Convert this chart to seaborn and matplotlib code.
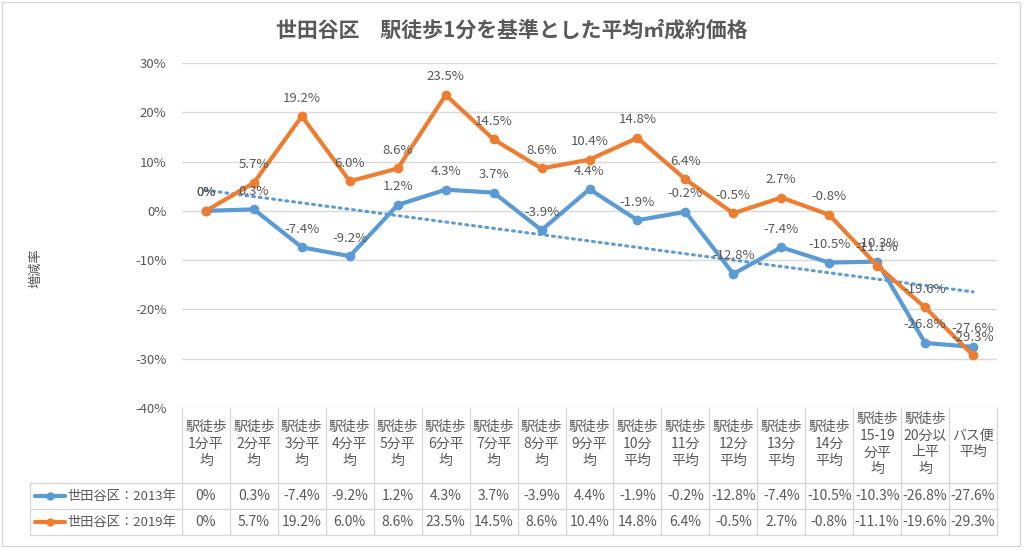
import numpy as np
import pandas as pd
import matplotlib
matplotlib.use("Agg")
import matplotlib.pyplot as plt
import matplotlib.transforms as mtransforms
from matplotlib.patches import Rectangle
from matplotlib.lines import Line2D
import seaborn as sns

# ---------------- data ----------------
categories = [
    "駅徒歩\n1分平\n均", "駅徒歩\n2分平\n均", "駅徒歩\n3分平\n均", "駅徒歩\n4分平\n均",
    "駅徒歩\n5分平\n均", "駅徒歩\n6分平\n均", "駅徒歩\n7分平\n均", "駅徒歩\n8分平\n均",
    "駅徒歩\n9分平\n均", "駅徒歩\n10分\n平均", "駅徒歩\n11分\n平均", "駅徒歩\n12分\n平均",
    "駅徒歩\n13分\n平均", "駅徒歩\n14分\n平均", "駅徒歩\n15-19\n分平\n均",
    "駅徒歩\n20分以\n上平\n均", "バス便\n平均",
]
series_names = ["世田谷区：2013年", "世田谷区：2019年"]
values_2013 = [0, 0.3, -7.4, -9.2, 1.2, 4.3, 3.7, -3.9, 4.4, -1.9, -0.2, -12.8, -7.4, -10.5, -10.3, -26.8, -27.6]
values_2019 = [0, 5.7, 19.2, 6.0, 8.6, 23.5, 14.5, 8.6, 10.4, 14.8, 6.4, -0.5, 2.7, -0.8, -11.1, -19.6, -29.3]
y_ticks = [30, 20, 10, 0, -10, -20, -30, -40]
title = "世田谷区\u3000駅徒歩1分を基準とした平均㎡成約価格"
y_label = "増減率"

# ---------------- style ----------------
sns.set_theme(style="white")
plt.rcParams["font.family"] = ["Noto Sans CJK JP", "DejaVu Sans"]
TXT = "#595959"
GRID = "#D9D9D9"
BLUE = "#5B9BD5"
ORANGE = "#ED7D31"
colors = [BLUE, ORANGE]

W, H = 1024, 550
fig = plt.figure(figsize=(W / 100, H / 100), dpi=100)
fig.patch.set_facecolor("white")

def fx(p):
    return p / W

def fy(p):
    return 1 - p / H

ax_l, ax_r, ax_t, ax_b = 182, 997, 63, 408
ax = fig.add_axes([fx(ax_l), fy(ax_b), fx(ax_r - ax_l), (ax_b - ax_t) / H])

n = len(categories)
idx = np.arange(n)
df = pd.DataFrame({
    "idx": np.concatenate([idx, idx]),
    "value": values_2013 + values_2019,
    "series": [series_names[0]] * n + [series_names[1]] * n,
})

# trendline (linear fit of 2013 series)
coef = np.polyfit(idx, values_2013, 1)
ax.plot(idx, np.polyval(coef, idx), linestyle=(0, (0.6, 1.6)), color=BLUE,
        lw=2.2, dash_capstyle="round", zorder=2)

sns.lineplot(data=df, x="idx", y="value", hue="series", palette=colors,
             hue_order=series_names, marker="o", markersize=7, markeredgewidth=0,
             linewidth=3, legend=False, ax=ax, zorder=3)

def fmt(v):
    return "0%" if v == 0 else f"{v:.1f}%"

for vals in (values_2013, values_2019):
    for i, v in enumerate(vals):
        ax.annotate(fmt(v), (i, v), xytext=(0, 13), textcoords="offset points",
                    ha="center", va="center", fontsize=9.5, color=TXT, zorder=5)

ax.set_xlim(-0.5, n - 0.5)
ax.set_ylim(-40, 30)
ax.set_yticks(y_ticks)
ax.set_yticklabels([f"{t}%" for t in y_ticks], fontsize=9.5, color=TXT)
ax.tick_params(axis="y", length=0, pad=11)
ax.set_xticks([])
ax.set_xlabel("")
ax.set_ylabel("")
ax.grid(axis="y", color=GRID, lw=1)
for s in ax.spines.values():
    s.set_visible(False)
ax.set_facecolor("none")

# title and axis label
fig.text(0.5, fy(30), title, ha="center", va="center", fontsize=15,
         fontweight="bold", color=TXT)
fig.text(fx(36), fy(268), y_label, ha="center", va="center", rotation=90,
         fontsize=9.5, color=TXT)

# ---------------- data table ----------------
bt = mtransforms.blended_transform_factory(ax.transData, fig.transFigure)
row1, row2, row_end = 483, 509, 535
for i in range(n + 1):
    fig.add_artist(Line2D([i - 0.5, i - 0.5], [fy(ax_b), fy(row_end)], transform=bt,
                          color=GRID, lw=1))
for yy in (row1, row2, row_end):
    fig.add_artist(Line2D([fx(30), fx(ax_r)], [fy(yy), fy(yy)], transform=fig.transFigure,
                          color=GRID, lw=1))
fig.add_artist(Line2D([fx(30), fx(30)], [fy(row1), fy(row_end)], transform=fig.transFigure,
                      color=GRID, lw=1))

for i, c in enumerate(categories):
    fig.text(i, fy(444), c, transform=bt, ha="center", va="center", fontsize=10,
             color=TXT, linespacing=1.25)
for r, vals in enumerate((values_2013, values_2019)):
    ycen = fy((row1 + row2) / 2 if r == 0 else (row2 + row_end) / 2)
    for i, v in enumerate(vals):
        fig.text(i, ycen, fmt(v), transform=bt, ha="center", va="center",
                 fontsize=10, color=TXT)
    fig.add_artist(Line2D([fx(35), fx(65)], [ycen, ycen], transform=fig.transFigure,
                          color=colors[r], lw=3))
    fig.add_artist(Line2D([fx(50)], [ycen], transform=fig.transFigure, marker="o",
                          markersize=6, color=colors[r], markeredgewidth=0))
    fig.text(fx(67), ycen, series_names[r], ha="left", va="center", fontsize=9.5,
             color=TXT)

# outer border
fig.add_artist(Rectangle((fx(2), fy(546)), fx(1018), (544) / H, transform=fig.transFigure,
                         fill=False, edgecolor=GRID, lw=1))

fig.savefig("out.png", dpi=100)
